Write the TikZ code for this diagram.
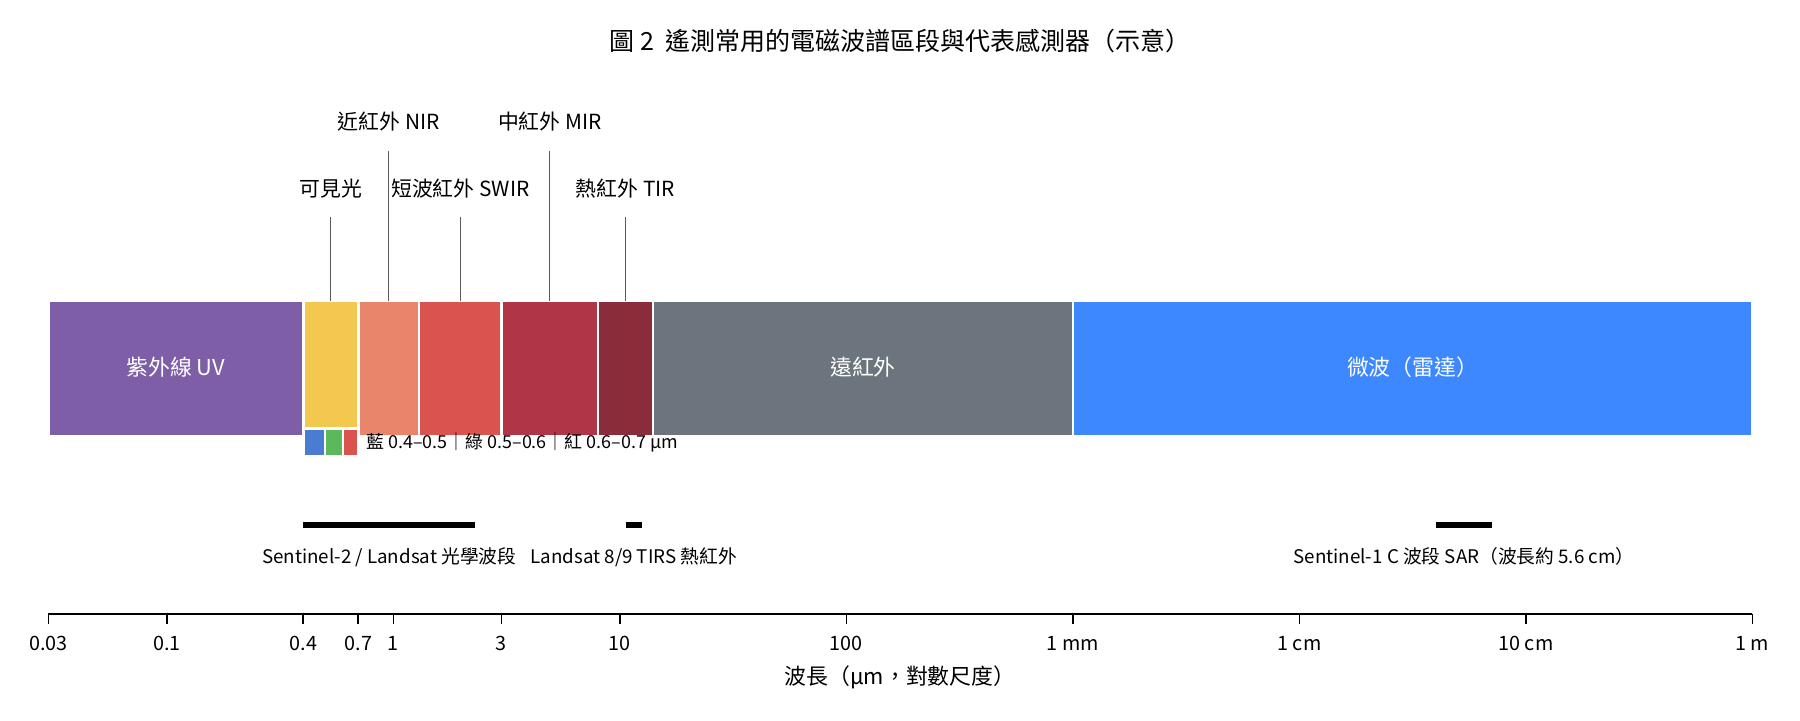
\documentclass[tikz,border=0pt]{standalone}
\usepackage{fontspec}
\setmainfont{Noto Sans CJK TC}
\usepackage{tikz}
\usetikzlibrary{positioning}
\usepackage{xcolor}
\definecolor{uvpurple}{HTML}{7D5EA7}
\definecolor{visyellow}{HTML}{F2C94E}
\definecolor{nirsalmon}{HTML}{E8856A}
\definecolor{swirred}{HTML}{DB534F}
\definecolor{mirred}{HTML}{B03647}
\definecolor{tirred}{HTML}{8B2C3A}
\definecolor{firgray}{HTML}{6C757D}
\definecolor{mwblue}{HTML}{3D88FF}
\definecolor{legblue}{HTML}{4A7DD1}
\definecolor{leggreen}{HTML}{5CB85C}
\definecolor{legred}{HTML}{D9534F}

\begin{document}
\begin{tikzpicture}[x=0.48pt, y=-0.48pt,
  declare function={lg(\v)=393.4+226.5*\v;},
  bandbox/.style={draw=white, line width=1.2pt},
  legsq/.style={draw=white, line width=1.2pt},
  callout/.style={black!65, line width=0.6pt},
  toplabel/.style={font=\fontsize{10}{12}\selectfont, anchor=base, inner sep=0pt},
  bandlabel/.style={font=\fontsize{10.5}{12}\selectfont, text=white, anchor=base, inner sep=0pt},
  legendtext/.style={font=\fontsize{8.6}{10}\selectfont, anchor=base west, inner sep=0pt},
  sensorbar/.style={line width=3.1pt},
  sensorlabel/.style={font=\fontsize{9}{11}\selectfont, anchor=base, inner sep=0pt},
  axline/.style={line width=1pt},
  axtick/.style={line width=0.8pt},
  ticklabel/.style={font=\fontsize{9.5}{11}\selectfont, anchor=base, inner sep=0pt}
]
\useasboundingbox (0,0) rectangle (1800,720);

% title
\node[font=\fontsize{12}{14}\selectfont, anchor=base, inner sep=0pt] (title) at (900,50)
  {圖 2\hspace{0.45em}遙測常用的電磁波譜區段與代表感測器（示意）};

% spectrum bands (x in decades of um)
\foreach \n/\a/\b/\c in {uv/log10(0.03)/log10(0.4)/uvpurple,
    vis/log10(0.4)/log10(0.7)/visyellow,
    nir/log10(0.7)/log10(1.3)/nirsalmon,
    swir/log10(1.3)/log10(3)/swirred,
    mir/log10(3)/log10(8)/mirred,
    tir/log10(8)/log10(14)/tirred,
    fir/log10(14)/3/firgray,
    mw/3/6/mwblue}{
  \draw[bandbox, fill=\c] ({lg(\a)},301) rectangle ({lg(\b)},436.5);
  \coordinate (\n) at ({lg((\a+\b)/2)},301);
}
\node[bandlabel] (uvlab) at (uv |- 0,375) {紫外線 UV};
\node[bandlabel] (firlab) at (fir |- 0,375) {遠紅外};
\node[bandlabel] (mwlab) at (mw |- 0,375) {微波（雷達）};

% callouts above the bands
\foreach \n/\h/\b/\t in {vis/217/196/可見光, nir/151/129/近紅外 NIR,
    swir/217/196/短波紅外 SWIR, mir/151/129/中紅外 MIR, tir/217/196/熱紅外 TIR}{
  \draw[callout] (\n) -- (\n |- 0,\h) coordinate (\n top);
  \node[toplabel] (\n lab) at (\n top |- 0,\b) {\t};
}

% blue / green / red sub-bands
\foreach \a/\b/\c in {0.4/0.5/legblue, 0.5/0.6/leggreen, 0.6/0.7/legred}
  \draw[legsq, fill=\c] ({lg(log10(\a))},428.5) rectangle ({lg(log10(\b))},456);
\node[legendtext] (legend) at (366,448) {藍 0.4–0.5｜綠 0.5–0.6｜紅 0.6–0.7 µm};

% sensors
\draw[sensorbar] ({lg(log10(0.4))},525) coordinate (s2a) -- ({lg(log10(2.3))},525) coordinate (s2b);
\node[sensorlabel] (s2lab) at ({lg((log10(0.4)+log10(2.3))/2)},563) {Sentinel-2 / Landsat 光學波段};
\draw[sensorbar] ({lg(log10(10.6))},525) coordinate (tirsa) -- ({lg(log10(12.5))},525) coordinate (tirsb);
\node[sensorlabel] (tirslab) at ({lg((log10(10.6)+log10(12.5))/2)},563) {Landsat 8/9 TIRS 熱紅外};
\draw[sensorbar] ({lg(4+log10(4))},525) coordinate (s1a) -- ({lg(4+log10(7.1))},525) coordinate (s1b);
\node[sensorlabel] (s1lab) at ({lg(4+(log10(4)+log10(7.1))/2)},563) {Sentinel-1 C 波段 SAR（波長約 5.6 cm）};

% wavelength axis
\draw[axline] ({lg(log10(0.03))},614) coordinate (ax0) -- ({lg(6)},614) coordinate (ax1);
\foreach \e/\t [count=\i] in {log10(0.03)/0.03, -1/0.1, log10(0.4)/0.4, log10(0.7)/0.7,
    0/1, log10(3)/3, 1/10, 2/100, 3/1 mm, 4/1 cm, 5/10 cm, 6/1 m}{
  \draw[axtick] ({lg(\e)},614) -- ++(0,10) coordinate (tk\i);
  \node[ticklabel] (tl\i) at (tk\i |- 0,650) {\t};
}
\node[font=\fontsize{10.5}{12}\selectfont, anchor=base, inner sep=0pt] (xlab) at (900,684)
  {波長（µm，對數尺度）};
\end{tikzpicture}
\end{document}
